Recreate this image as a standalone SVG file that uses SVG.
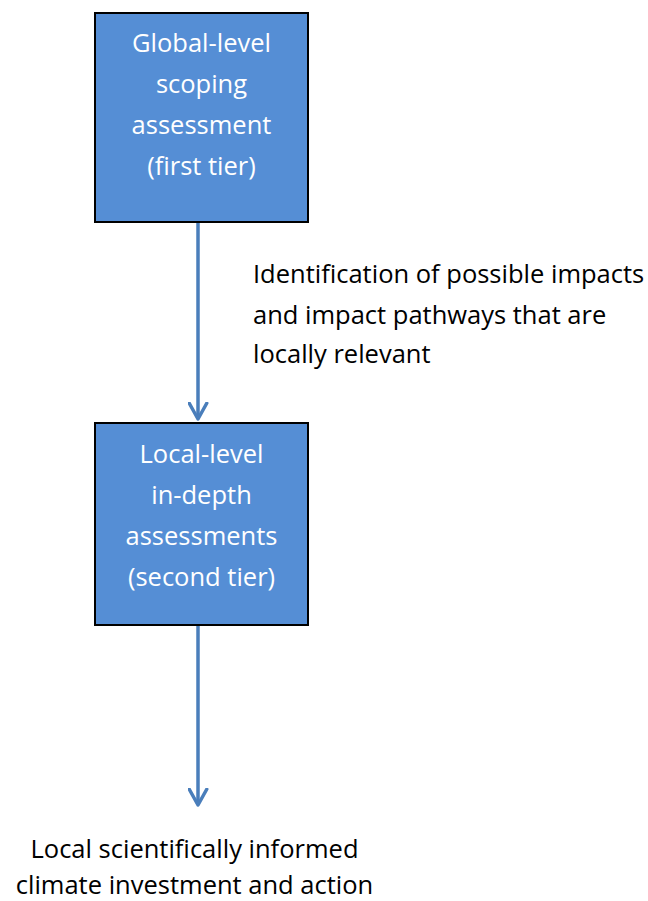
<svg xmlns="http://www.w3.org/2000/svg" width="648" height="901" viewBox="0 0 648 901">
<defs>
<style>
.box{fill:#558ED5;stroke:#000;stroke-width:2}
.bt{font-family:"Open Sans","Noto Sans",sans-serif;font-size:25.5px;fill:#fff;text-anchor:middle}
.t{font-family:"Open Sans","Noto Sans",sans-serif;font-size:25.5px;fill:#000}
.c{stroke:#4A7EBB;stroke-width:3.5;fill:none}
</style>
<marker id="ah" viewBox="0 0 12 12" refX="10" refY="6" markerWidth="6" markerHeight="6" markerUnits="strokeWidth" orient="auto">
<path d="M1,1 L10,6 L1,11" fill="none" stroke="#4A7EBB" stroke-width="2" stroke-linecap="round" stroke-linejoin="round"/>
</marker>
</defs>
<rect width="648" height="901" fill="#fff"/>
<g id="connectors">
<line class="c" x1="198" y1="222" x2="198" y2="419" marker-end="url(#ah)"/>
<line class="c" x1="198" y1="625" x2="198" y2="805" marker-end="url(#ah)"/>
</g>
<g id="node1">
<rect class="box" x="95" y="13" width="213" height="209"/>
<text class="bt" x="201.5" y="52">Global-level</text>
<text class="bt" x="201.5" y="93">scoping</text>
<text class="bt" x="201.5" y="134">assessment</text>
<text class="bt" x="201.5" y="175">(first tier)</text>
</g>
<g id="label1">
<text class="t" x="253" y="283">Identification of possible impacts</text>
<text class="t" x="253" y="324">and impact pathways that are</text>
<text class="t" x="253" y="363">locally relevant</text>
</g>
<g id="node2">
<rect class="box" x="95" y="423" width="213" height="202"/>
<text class="bt" x="201.5" y="463">Local-level</text>
<text class="bt" x="201.5" y="504">in-depth</text>
<text class="bt" x="201.5" y="545">assessments</text>
<text class="bt" x="201.5" y="586">(second tier)</text>
</g>
<g id="node3">
<text class="t" x="194.5" y="858" text-anchor="middle">Local scientifically informed</text>
<text class="t" x="194.5" y="894" text-anchor="middle">climate investment and action</text>
</g>
</svg>
